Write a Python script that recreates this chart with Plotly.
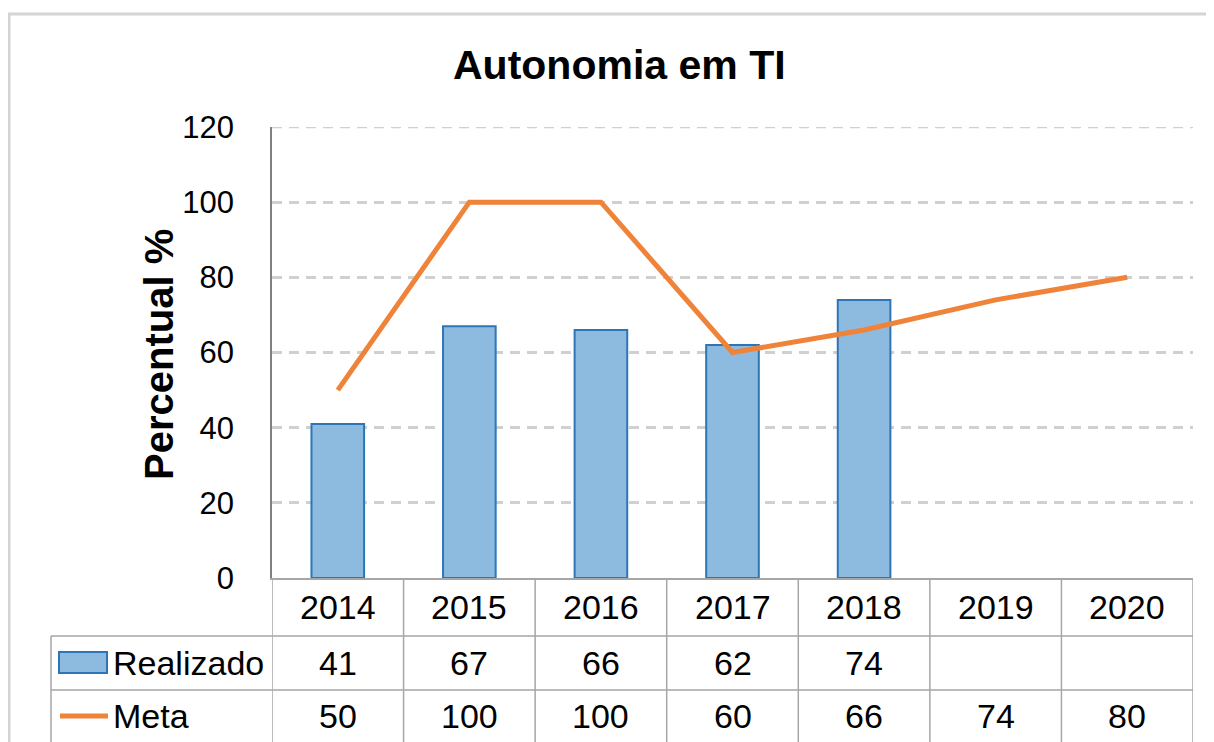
import plotly.graph_objects as go

years = ["2014", "2015", "2016", "2017", "2018", "2019", "2020"]
realizado = [41, 67, 66, 62, 74]
meta = [50, 100, 100, 60, 66, 74, 80]
y_ticks = [0, 20, 40, 60, 80, 100, 120]

OFF = 8  # page body margin
W, H = 1214 - OFF, 742 - OFF
# plot-area edges in reference page pixels
RL, RR, RT, RB = 272, 1193, 127, 578
L, R, T, B = RL - OFF, RR - OFF, RT - OFF, RB - OFF
PW, PH = R - L, B - T

def px(x):
    return (x - OFF - L) / PW

def py(y):
    return (B - (y - OFF)) / PH

FONT = "Liberation Sans, Arial"
BLUE_FILL = "#8DBBE0"
BLUE_LINE = "#2E75B6"
ORANGE = "#F0833A"
GRID = "#A6A6A6"

fig = go.Figure()
fig.add_trace(go.Bar(x=years[:len(realizado)], y=realizado, name="Realizado",
                     marker=dict(color=BLUE_FILL, line=dict(color=BLUE_LINE, width=2)),
                     width=0.4))
fig.add_trace(go.Scatter(x=years, y=meta, name="Meta", mode="lines",
                         line=dict(color=ORANGE, width=5)))

shapes = []
# outer chart border (cropped)
shapes.append(dict(type="rect", xref="paper", yref="paper",
                   x0=px(9), x1=px(1240), y0=py(14), y1=py(770),
                   line=dict(color="#D4D4D4", width=3), layer="below"))
# top gridline (edge of range)
shapes.append(dict(type="line", xref="paper", yref="y", x0=0, x1=1,
                   y0=y_ticks[-1], y1=y_ticks[-1],
                   line=dict(color="#D0D0D0", width=2.5, dash="10px,7px"), layer="below"))
# table vertical lines
for i in range(len(years) + 1):
    shapes.append(dict(type="line", xref="x", yref="paper", x0=i - 0.5, x1=i - 0.5,
                       y0=py(578), y1=py(760), line=dict(color=GRID, width=1.5)))
# table horizontal lines
for yy in (636, 690):
    shapes.append(dict(type="line", xref="paper", yref="paper", x0=px(51), x1=1,
                       y0=py(yy), y1=py(yy), line=dict(color=GRID, width=1.5)))
shapes.append(dict(type="line", xref="paper", yref="paper", x0=px(51), x1=px(51),
                   y0=py(636), y1=py(760), line=dict(color=GRID, width=1.5)))
# legend keys
shapes.append(dict(type="rect", xref="paper", yref="paper", x0=px(59), x1=px(107),
                   y0=py(673), y1=py(652), fillcolor=BLUE_FILL,
                   line=dict(color=BLUE_LINE, width=2)))
shapes.append(dict(type="line", xref="paper", yref="paper", x0=px(60), x1=px(108),
                   y0=py(716), y1=py(716), line=dict(color=ORANGE, width=5)))

ann = []
tf = dict(family=FONT, size=34, color="#000000")
common = dict(showarrow=False, xanchor="center", yanchor="middle")
for i, yr in enumerate(years):
    ann.append(dict(x=i, y=py(607), xref="x", yref="paper", text=yr, font=tf, **common))
    if i < len(realizado):
        ann.append(dict(x=i, y=py(663), xref="x", yref="paper", text=str(realizado[i]),
                        font=tf, **common))
    ann.append(dict(x=i, y=py(716), xref="x", yref="paper", text=str(meta[i]),
                    font=tf, **common))
ann.append(dict(x=px(111), y=py(663), xref="paper", yref="paper", text="Realizado",
                xanchor="left", yanchor="middle", showarrow=False, font=tf))
ann.append(dict(x=px(111), y=py(716), xref="paper", yref="paper", text="Meta",
                xanchor="left", yanchor="middle", showarrow=False, font=tf))
ann.append(dict(x=px(159), y=py(355), xref="paper", yref="paper", text="<b>Percentual %</b>",
                textangle=-90, font=dict(family=FONT, size=40, color="#000000"), **common))
ann.append(dict(x=px(619), y=py(65), xref="paper", yref="paper", text="<b>Autonomia em TI</b>",
                font=dict(family=FONT, size=41, color="#000000"), **common))

fig.update_layout(
    width=W, height=H,
    margin=dict(l=L, r=W - R, t=T, b=H - B, pad=0),
    paper_bgcolor="white", plot_bgcolor="white",
    showlegend=False,
    shapes=shapes, annotations=ann,
    xaxis=dict(type="category", categoryorder="array", categoryarray=years,
               range=[-0.5, len(years) - 0.5], showticklabels=False, showgrid=False,
               showline=True, linecolor=GRID, linewidth=1.5, zeroline=False, ticks=""),
    yaxis=dict(range=[0, 120], tickvals=y_ticks, showgrid=True, gridcolor="#D0D0D0",
               griddash="10px,7px", gridwidth=2.5, showline=True, linecolor="#808080",
               linewidth=1.5, zeroline=False, ticks="", ticklabelstandoff=30,
               tickfont=dict(family=FONT, size=31, color="#000000")),
)

fig.write_html("out.html")
